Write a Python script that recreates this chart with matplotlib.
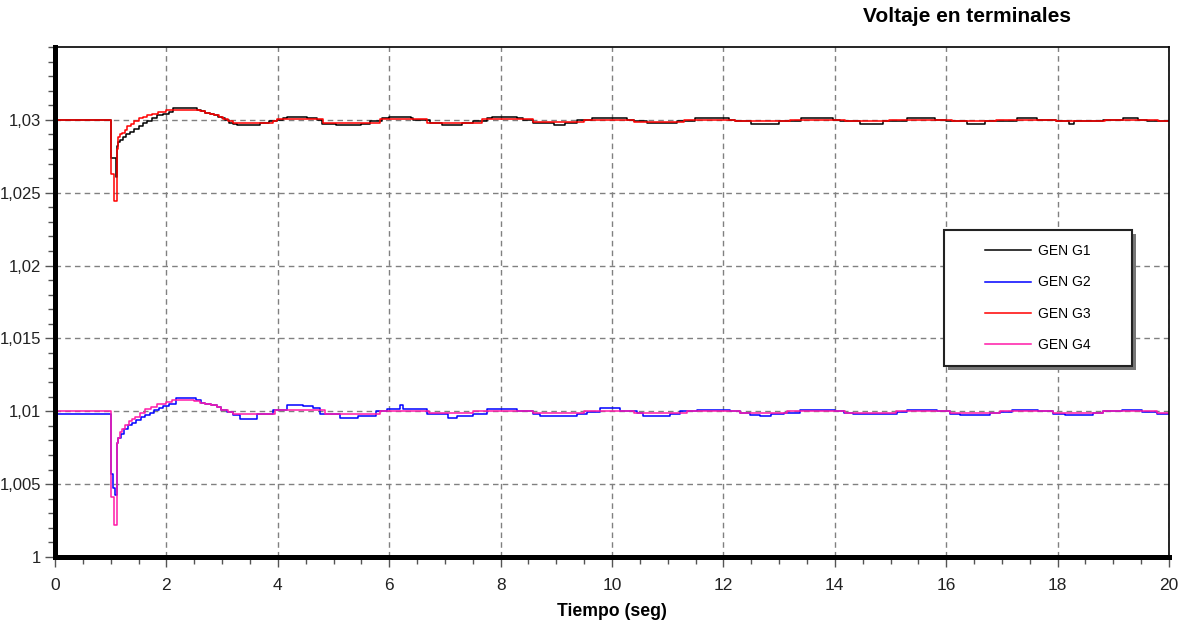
"""Voltaje en terminales - GEN G1..G4 step response."""

import matplotlib
matplotlib.use("Agg")
import matplotlib.pyplot as plt
import matplotlib.ticker as mticker
from matplotlib.patches import Rectangle

# GEN G1 (black) breakpoints, drawn as steps
g1_t = [0, 1.0, 1.09, 1.11, 1.13, 1.17, 1.22, 1.28, 1.34, 1.42, 1.5, 1.58, 1.66,
        1.74, 1.84, 1.94, 2.05, 2.12, 2.55, 2.62, 2.7, 2.78, 2.85, 2.92, 3.0,
        3.05, 3.12, 3.2, 3.27, 3.68, 3.85, 3.98, 4.1, 4.16, 4.52,
        4.7, 4.8, 5.05, 5.5, 5.66, 5.87, 6.0, 6.4, 6.43, 6.73, 6.95, 7.3, 7.5,
        7.75, 7.85, 8.3, 8.4, 8.58, 8.95, 9.15, 9.37, 9.64, 10.27, 10.4, 10.63,
        11.17, 11.49, 12.1, 12.2, 12.5, 13.0, 13.4, 13.97, 14.1, 14.45, 14.87,
        15.3, 15.8, 16.0, 16.37, 16.7, 17.27, 17.63, 17.97, 18.2, 18.3, 18.82,
        19.17, 19.44, 19.6, 20.0]
g1_v = [1.0300, 1.0274, 1.0261, 1.0282, 1.02845, 1.0286, 1.0288, 1.0290, 1.0292,
        1.0294, 1.0296, 1.0298, 1.0299, 1.0301, 1.0303, 1.0304, 1.03055, 1.0308,
        1.0307, 1.0306, 1.0305, 1.0304, 1.0303, 1.0302, 1.0301, 1.0300, 1.0298,
        1.0297, 1.02964, 1.02977, 1.0299, 1.0300, 1.0301, 1.03023, 1.03016,
        1.0300, 1.0297, 1.02964, 1.0297, 1.0299, 1.03016, 1.03023, 1.03016,
        1.0300, 1.02977, 1.02964, 1.02977, 1.0299, 1.03012, 1.03023, 1.03012,
        1.0300, 1.02977, 1.02964, 1.02977, 1.0300, 1.03012, 1.0300, 1.0299,
        1.02977, 1.0299, 1.03012, 1.0300, 1.0299, 1.02975, 1.0299, 1.03012,
        1.0300, 1.0299, 1.02975, 1.0299, 1.03012, 1.0300, 1.0299, 1.02975,
        1.0299, 1.03012, 1.0300, 1.0299, 1.02975, 1.0299, 1.0300, 1.03012,
        1.0300, 1.0299, 1.0299]

# GEN G2 (blue)
g2_t = [0, 1.0, 1.04, 1.07, 1.11, 1.14, 1.18, 1.24, 1.31, 1.38, 1.46, 1.54, 1.62,
        1.7, 1.78, 1.86, 1.94, 2.05, 2.18, 2.54, 2.62, 2.7, 2.8, 2.9, 2.98,
        3.08, 3.2, 3.33, 3.62, 3.92, 4.16, 4.46, 4.63, 4.75,
        5.12, 5.44, 5.77, 5.96, 6.2, 6.25, 6.68, 7.05, 7.21, 7.51, 7.75, 8.29,
        8.59, 8.7, 9.37, 9.55, 9.78, 10.14, 10.44, 10.56, 11.04, 11.22, 11.53,
        12.12, 12.3, 12.48, 12.65, 12.86, 13.08, 13.38, 14.0, 14.17, 14.33,
        14.93, 15.11, 15.3, 15.83, 16.07, 16.25, 16.79, 16.97, 17.18, 17.65,
        17.92, 18.13, 18.64, 18.82, 19.16, 19.52, 19.79, 20.0]
g2_v = [1.0098, 1.00573, 1.00473, 1.00425, 1.0078, 1.0082, 1.00847, 1.0088,
        1.00904, 1.0092, 1.0094, 1.0096, 1.00973, 1.0099, 1.0101, 1.0102,
        1.01034, 1.01048, 1.01089, 1.0108, 1.0106, 1.0105, 1.0104, 1.0103,
        1.0101, 1.00995, 1.00973, 1.0095, 1.0098, 1.0101, 1.01041, 1.01034,
        1.0102, 1.0098, 1.00952, 1.0097, 1.0100, 1.01015, 1.01041, 1.01015,
        1.0098, 1.00954, 1.0097, 1.0098, 1.01015, 1.01002, 1.0098, 1.00971,
        1.0098, 1.00993, 1.01023, 1.01005, 1.00988, 1.00971, 1.0098, 1.0100,
        1.01012, 1.0100, 1.00988, 1.00977, 1.00966, 1.00978, 1.00989, 1.01009,
        1.0100, 1.00989, 1.00978, 1.00982, 1.00995, 1.01009, 1.0100, 1.00982,
        1.00977, 1.00989, 1.00995, 1.01009, 1.0100, 1.00982, 1.00977, 1.00989,
        1.0100, 1.01009, 1.00998, 1.00982, 1.00982]

# GEN G3 (red)
g3_t = [0, 1.0, 1.06, 1.11, 1.14, 1.17, 1.2, 1.25, 1.3, 1.36, 1.42, 1.5, 1.58,
        1.66, 1.75, 1.85, 2.0, 2.6, 2.7, 2.78, 2.86, 2.94, 3.02, 3.1, 3.2, 3.92,
        3.98, 4.82, 5.84, 6.67, 7.66, 8.59, 9.49, 10.4, 11.3, 12.2, 13.2, 14.18,
        14.97, 16.1, 16.9, 17.97, 18.85, 19.8, 20.0]
g3_v = [1.0300, 1.0263, 1.02445, 1.0280, 1.02879, 1.0290, 1.02913, 1.0293,
        1.02955, 1.0297, 1.0299, 1.0301, 1.0302, 1.0303, 1.0304, 1.03055,
        1.03066, 1.0306, 1.0305, 1.0304, 1.0303, 1.0302, 1.03005, 1.0299,
        1.02977, 1.02993, 1.03005, 1.0298, 1.03005, 1.0298, 1.03003, 1.02983,
        1.03002, 1.02985, 1.0300, 1.02993, 1.0300, 1.02993, 1.0300, 1.02993,
        1.0300, 1.02993, 1.0300, 1.02993, 1.02993]

# GEN G4 (magenta)
g4_t = [0, 1.0, 1.06, 1.11, 1.14, 1.17, 1.21, 1.26, 1.32, 1.38, 1.44, 1.53, 1.62,
        1.72, 1.83, 2.0, 2.1, 2.5, 2.6, 2.7, 2.8, 2.9, 2.98, 3.1, 3.2, 3.95,
        4.85, 5.84, 6.71, 7.51, 8.59, 9.5, 10.4, 11.34, 12.3, 13.15, 14.18,
        15.1, 16.07, 16.97, 17.92, 18.82, 19.79, 20.0]
g4_v = [1.0100, 1.00413, 1.0022, 1.00779, 1.0082, 1.00858, 1.0088, 1.00904,
        1.0093, 1.0095, 1.00961, 1.0099, 1.01018, 1.0103, 1.01048, 1.01064,
        1.0108, 1.0107, 1.0106, 1.0105, 1.0104, 1.0103, 1.0101, 1.00995,
        1.0098, 1.01012, 1.0098, 1.0100, 1.00985, 1.01003, 1.00985, 1.01003,
        1.00988, 1.0100, 1.00988, 1.01002, 1.00985, 1.01002, 1.00985, 1.01002,
        1.00985, 1.01002, 1.00988, 1.00988]

series = [
    ("GEN G1", g1_t, g1_v, "#000000"),
    ("GEN G2", g2_t, g2_v, "#0000ff"),
    ("GEN G3", g3_t, g3_v, "#ff0000"),
    ("GEN G4", g4_t, g4_v, "#ff1aa8"),
]

plt.rcParams["font.family"] = ["Liberation Sans", "DejaVu Sans"]

fig = plt.figure(figsize=(11.81, 6.26), dpi=100)
ax = fig.add_axes([55 / 1181, 69 / 626, 1114 / 1181, 510 / 626])

handles = []
for name, t, v, color in series:
    (ln,) = ax.plot(t, v, drawstyle="steps-post", color=color, lw=1.1, label=name)
    handles.append(ln)

ax.set_xlim(0, 20)
ax.set_ylim(1.0, 1.035)
ax.xaxis.set_major_locator(mticker.MultipleLocator(2))
ax.xaxis.set_minor_locator(mticker.MultipleLocator(0.5))
ax.yaxis.set_major_locator(mticker.FixedLocator([1.0, 1.005, 1.01, 1.015, 1.02, 1.025, 1.03]))
ax.yaxis.set_minor_locator(mticker.MultipleLocator(0.001))
ax.yaxis.set_major_formatter(mticker.FuncFormatter(
    lambda v, _: f"{v:.3f}".rstrip("0").rstrip(".").replace(".", ",")))

ax.grid(True, which="major", color="#808080", ls=(0, (4, 3)), lw=1.0)
ax.tick_params(which="both", direction="out", color="#555555", width=1)
ax.tick_params(which="major", length=7)
ax.tick_params(which="minor", length=5)
ax.tick_params(axis="y", labelsize=12, labelcolor="#222222", pad=3)
ax.tick_params(axis="x", labelsize=12.5, labelcolor="#222222", pad=8)
for lab in ax.get_xticklabels():
    lab.set_family(["Liberation Sans Narrow", "DejaVu Sans Condensed", "Liberation Sans"])

ax.spines["left"].set_linewidth(3.6)
ax.spines["bottom"].set_linewidth(3.6)
ax.spines["top"].set_linewidth(1.2)
ax.spines["right"].set_linewidth(1.2)

ax.set_xlabel("Tiempo (seg)", fontsize=12.7, fontweight="bold", labelpad=7)
fig.text(967 / 1181, 1 - 17 / 626, "Voltaje en terminales", fontsize=15,
         fontweight="bold", ha="center", va="center")

# legend box with drop shadow
bx0, bx1 = 0.798, 0.9668
by0, by1 = 0.3745, 0.641
ax.add_patch(Rectangle((bx0 + 0.004, by0 - 0.008), bx1 - bx0, by1 - by0,
                       transform=ax.transAxes, facecolor="#777777",
                       edgecolor="none", zorder=5))
ax.add_patch(Rectangle((bx0, by0), bx1 - bx0, by1 - by0, transform=ax.transAxes,
                       facecolor="white", edgecolor="#222222", lw=1.5, zorder=6))
leg = ax.legend(handles=handles, loc="center",
                bbox_to_anchor=((bx0 + bx1) / 2, (by0 + by1) / 2),
                frameon=False, fontsize=10, handlelength=3.3, handletextpad=0.5,
                labelspacing=1.25)
leg.set_zorder(7)

fig.savefig("out.png", dpi=100)
